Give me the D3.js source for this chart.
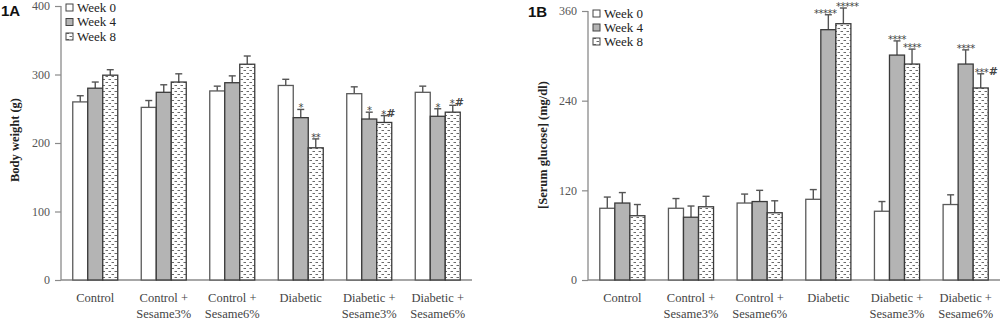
<!DOCTYPE html>
<html>
<head>
<meta charset="utf-8">
<script src="https://cdn.jsdelivr.net/npm/d3@7/dist/d3.min.js"></script>
<style>
  html, body { margin: 0; padding: 0; background: #fff; }
  svg { display: block; }
</style>
</head>
<body>
<svg id="chart" width="1000" height="322"></svg>
<script>
// Group labels (two lines each) and weeks
const groups = ["Control", "Control + Sesame3%", "Control + Sesame6%", "Diabetic", "Diabetic + Sesame3%", "Diabetic + Sesame6%"];
const groupLines = [["Control"], ["Control +", "Sesame3%"], ["Control +", "Sesame6%"], ["Diabetic"], ["Diabetic +", "Sesame3%"], ["Diabetic +", "Sesame6%"]];
const weeks = ["Week 0", "Week 4", "Week 8"];

// Panel 1A: body weight (g), mean per group for week 0 / 4 / 8
const weightWeek0 = [260, 252, 276, 284, 272, 274];
const weightWeek4 = [280, 274, 288, 237, 235, 239];
const weightWeek8 = [299, 289, 315, 193, 230, 245];
// upper error (SE) for each bar
const weightErr0 = [9, 10, 7, 9, 10, 9];
const weightErr4 = [9, 11, 10, 12, 10, 11];
const weightErr8 = [8, 12, 12, 13, 10, 10];
const weightSig4 = ["", "", "", "*", "*", "*"];
const weightSig8 = ["", "", "", "**", "*#", "*#"];
const weightTicks = [0, 100, 200, 300, 400];

// Panel 1B: serum glucose (mg/dl)
const glucoseWeek0 = [96, 96, 103, 108, 92, 101];
const glucoseWeek4 = [103, 84, 105, 335, 301, 289];
const glucoseWeek8 = [86, 98, 90, 343, 289, 257];
const glucoseErr0 = [15, 13, 12, 13, 13, 13];
const glucoseErr4 = [14, 15, 15, 20, 19, 19];
const glucoseErr8 = [15, 14, 16, 21, 20, 19];
const glucoseSig4 = ["", "", "", "*****", "****", "****"];
const glucoseSig8 = ["", "", "", "*****", "****", "***#"];
const glucoseTicks = [0, 120, 240, 360];

const svg = d3.select("#chart");
const defs = svg.append("defs");

// dotted dash pattern used for week 8 bars
const pat = defs.append("pattern")
  .attr("id", "dots").attr("patternUnits", "userSpaceOnUse")
  .attr("width", 6).attr("height", 6);
pat.append("rect").attr("width", 6).attr("height", 6).attr("fill", "#fff");
pat.append("line").attr("x1", 0.5).attr("x2", 3).attr("y1", 1.5).attr("y2", 1.5)
  .attr("stroke", "#6a6a6a").attr("stroke-width", 1);
pat.append("line").attr("x1", 3.5).attr("x2", 6).attr("y1", 4.5).attr("y2", 4.5)
  .attr("stroke", "#6a6a6a").attr("stroke-width", 1);

const fills = ["#ffffff", "#b4b4b4", "url(#dots)"];
const strokes = ["#5a5a5a", "#3a3a3a", "#3a3a3a"];
const serif = "'Liberation Serif', 'Times New Roman', serif";
// long star runs on neighbouring bars are nudged apart
const longSigShift = [0, -3, 4];

function panel(cfg) {
  const g = svg.append("g");
  const x = d3.scaleBand().domain(groups).range([cfg.x0, cfg.x1])
    .paddingInner(0.343).paddingOuter(0.1715);
  const xs = d3.scaleBand().domain(weeks).range([0, x.bandwidth()]);
  const y = d3.scaleLinear().domain([0, cfg.max]).range([cfg.yBottom, cfg.yTop]);

  // y axis
  const yAxis = g.append("g").attr("transform", `translate(${cfg.x0},0)`)
    .call(d3.axisLeft(y).tickValues(cfg.ticks).tickSize(6).tickPadding(5));
  yAxis.select(".domain").attr("stroke", "#8a8a8a").attr("stroke-width", 1.3)
    .attr("d", `M0,${cfg.yTop}V${cfg.yBottom}`);
  yAxis.selectAll(".tick line").attr("stroke", "#8a8a8a").attr("stroke-width", 1.2);
  yAxis.selectAll(".tick text").attr("fill", "#555").style("font-family", serif).style("font-size", "12px");

  // x axis baseline
  g.append("line").attr("x1", cfg.x0).attr("x2", cfg.xAxisEnd)
    .attr("y1", cfg.yBottom).attr("y2", cfg.yBottom)
    .attr("stroke", "#8a8a8a").attr("stroke-width", 1.3);

  const series = [cfg.w0, cfg.w4, cfg.w8];
  const errs = [cfg.e0, cfg.e4, cfg.e8];
  const sigs = [[], cfg.s4, cfg.s8];

  series.forEach((vals, si) => {
    const bars = g.append("g");
    groups.forEach((grp, gi) => {
      const bx = x(grp) + xs(weeks[si]);
      const bw = xs.bandwidth();
      const v = vals[gi];
      const top = y(v + errs[si][gi]);
      const cx = bx + bw / 2;
      // error bar (upper)
      bars.append("line").attr("x1", cx).attr("x2", cx).attr("y1", y(v)).attr("y2", top)
        .attr("stroke", "#555").attr("stroke-width", 1.4);
      bars.append("line").attr("x1", cx - 3.5).attr("x2", cx + 3.5).attr("y1", top).attr("y2", top)
        .attr("stroke", "#555").attr("stroke-width", 1.4);
      bars.append("rect").attr("x", bx).attr("y", y(v))
        .attr("width", bw).attr("height", y(0) - y(v))
        .attr("fill", fills[si]).attr("stroke", strokes[si]).attr("stroke-width", 1.3);
      const s = sigs[si][gi];
      if (s) {
        const hasHash = s.includes("#");
        const shift = s.length >= 5 ? longSigShift[si] : 0;
        const t = bars.append("text")
          .attr("x", (hasHash ? cx - 3 - (s.length - 2) * 1.5 : cx) + shift)
          .attr("y", top + 2)
          .attr("text-anchor", hasHash ? "start" : "middle")
          .attr("fill", "#444")
          .style("font-family", "'DejaVu Sans', sans-serif")
          .style("font-size", "10px")
          .style("letter-spacing", "-0.5px");
        t.append("tspan").text(s.replace("#", ""));
        if (hasHash) {
          t.append("tspan").attr("dx", 0.5).attr("dy", -1)
            .style("font-size", "11px").style("font-weight", "bold").text("#");
        }
      }
    });
  });

  // category labels
  groups.forEach((grp, gi) => {
    const t = g.append("text").attr("x", x(grp) + x.bandwidth() / 2).attr("y", 302)
      .attr("text-anchor", "middle").attr("fill", "#444")
      .style("font-family", serif).style("font-size", "12.5px");
    groupLines[gi].forEach((ln, li) => {
      t.append("tspan").attr("x", x(grp) + x.bandwidth() / 2).attr("dy", li === 0 ? 0 : 15.5).text(ln);
    });
  });

  // y title
  g.append("text")
    .attr("transform", `translate(${cfg.titleX},${cfg.titleY}) rotate(-90)`)
    .attr("text-anchor", "middle").attr("fill", "#222")
    .style("font-family", serif).style("font-size", "12.5px").style("font-weight", "bold")
    .text(cfg.title);

  // panel label
  g.append("text").attr("x", cfg.labelX).attr("y", cfg.labelY)
    .attr("fill", "#111").style("font-family", "'Liberation Sans', Arial, sans-serif")
    .style("font-size", "15px").style("font-weight", "bold").text(cfg.label);

  // legend
  const lg = g.append("g").attr("transform", `translate(${cfg.legX},${cfg.legY})`);
  weeks.forEach((w, i) => {
    const row = lg.append("g").attr("transform", `translate(0,${i * cfg.legStep})`);
    row.append("rect").attr("x", 0).attr("y", -5).attr("width", 7).attr("height", 7)
      .attr("fill", fills[i]).attr("stroke", "#444").attr("stroke-width", 1);
    row.append("text").attr("x", 11).attr("y", 2.5).attr("fill", "#222")
      .style("font-family", serif).style("font-size", "13px").text(w);
  });
}

panel({
  x0: 61, x1: 472, xAxisEnd: 472, yTop: 6, yBottom: 280, max: 400, ticks: weightTicks,
  w0: weightWeek0, w4: weightWeek4, w8: weightWeek8,
  e0: weightErr0, e4: weightErr4, e8: weightErr8, s4: weightSig4, s8: weightSig8,
  title: "Body weight (g)", titleX: 19, titleY: 140,
  label: "1A", labelX: 1, labelY: 16,
  legX: 66, legY: 9, legStep: 14.5
});

panel({
  x0: 588, x1: 1000, xAxisEnd: 1000, yTop: 11, yBottom: 280, max: 360, ticks: glucoseTicks,
  w0: glucoseWeek0, w4: glucoseWeek4, w8: glucoseWeek8,
  e0: glucoseErr0, e4: glucoseErr4, e8: glucoseErr8, s4: glucoseSig4, s8: glucoseSig8,
  title: "[Serum glucose] (mg/dl)", titleX: 547, titleY: 145,
  label: "1B", labelX: 528, labelY: 17,
  legX: 593, legY: 15, legStep: 14
});
</script>
</body>
</html>
